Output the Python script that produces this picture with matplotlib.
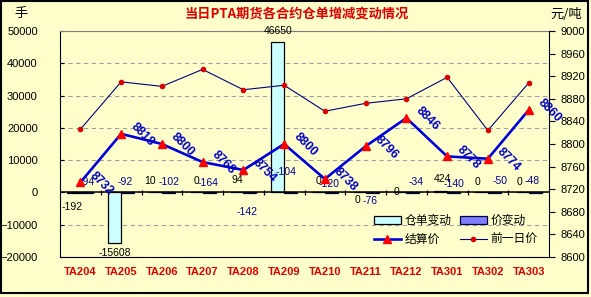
import matplotlib
matplotlib.use("Agg")
import matplotlib.pyplot as plt
import numpy as np
from matplotlib.patches import Patch, Rectangle
from matplotlib.lines import Line2D

plt.rcParams['font.family'] = ['Liberation Sans', 'Noto Sans CJK SC', 'DejaVu Sans']

contracts = ['TA204', 'TA205', 'TA206', 'TA207', 'TA208', 'TA209',
             'TA210', 'TA211', 'TA212', 'TA301', 'TA302', 'TA303']
receipt_chg = [-192, -15608, 10, 0, 94, 46650, 0, 0, 0, 424, 0, 0]
price_chg = [-94, -92, -102, -164, -142, -104, -120, -76, -34, -140, -50, -48]
settle = [8732, 8818, 8800, 8768, 8754, 8800, 8738, 8796, 8846, 8778, 8774, 8860]
prev_price = [8826, 8910, 8902, 8932, 8896, 8904, 8858, 8872, 8880, 8918, 8824, 8908]

# label offsets in pixels (dx, dy), hand placed like the excel original
receipt_off = [(-2, -14), (0, -10), (-5, 11), (0, 11), (0, 12), (1, 11),
               (0, 11), (-2, -8), (-3, 0), (2, 12), (-4, 10), (-3, 10)]
price_off = [(0, 11), (-2, 11), (1, 11), (-1, 10), (-3, -19), (-5, 21),
             (-2, 9), (-2, -8), (3, 11), (0, 9), (6, 12), (-3, 12)]

bg = '#FFFFCC'
cn = ['Noto Sans CJK SC', 'DejaVu Sans']

fig = plt.figure(figsize=(5.91, 2.97), dpi=100, facecolor=bg)
ax = fig.add_axes([60 / 591, 1 - 257 / 297, 489 / 591, 226 / 297])
ax.set_facecolor(bg)
x = np.arange(len(contracts))
w = 0.32

ax.bar(x - w / 2, receipt_chg, w, color='#CCFFFF', edgecolor='black', linewidth=0.9, zorder=2)
ax.bar(x + w / 2, price_chg, w, color='#8080FF', edgecolor='#000040', linewidth=0.9, zorder=2)

ax.set_ylim(-20000, 50000)
ax.set_xlim(-0.5, len(contracts) - 0.5)
ax.set_yticks(np.arange(-20000, 50001, 10000))
ax.yaxis.grid(True, linestyle=(0, (4, 3)), color='#A0A0A0', linewidth=0.8)
ax.set_axisbelow(True)
ax.tick_params(axis='y', direction='in', length=3, labelsize=8, pad=16)
ax.set_xticks(x)
ax.set_xticklabels(contracts, color='#E00000', fontweight='bold', fontsize=8)
ax.tick_params(axis='x', length=0, pad=7)
for s in ['left', 'bottom']:
    ax.spines[s].set_color('black')
ax.spines['top'].set_color('#808080')
ax.spines['right'].set_visible(False)

# zero axis line with category ticks
ax.axhline(0, color='black', linewidth=1.1, zorder=3)
ax.vlines(np.arange(0.5, len(contracts) - 0.5), -900, 900, color='black', linewidth=0.9, zorder=3)

for i, v in enumerate(receipt_chg):
    dx, dy = receipt_off[i]
    ax.annotate(str(v), (x[i] - w / 2, v), xytext=(dx, dy), textcoords='offset pixels',
                ha='center', va='center', fontsize=7.5, color='black', zorder=5)
for i, v in enumerate(price_chg):
    dx, dy = price_off[i]
    ax.annotate(str(v), (x[i] + w / 2, v), xytext=(dx, dy), textcoords='offset pixels',
                ha='center', va='center', fontsize=7.5, color='#000099', zorder=5)

ax2 = ax.twinx()
ax2.set_ylim(8600, 9000)
ax2.set_yticks(np.arange(8600, 9001, 40))
ax2.tick_params(axis='y', direction='out', length=4, labelsize=8, pad=4)
ax2.spines['right'].set_color('black')
ax2.spines['left'].set_visible(False)
ax2.spines['top'].set_visible(False)
ax2.spines['bottom'].set_visible(False)

ax2.plot(x, prev_price, color='#000080', linewidth=0.8, marker='o', markersize=3,
         markerfacecolor='#DD0000', markeredgecolor='#DD0000', zorder=4)
ax2.plot(x, settle, color='#0000DD', linewidth=1.9, marker='^', markersize=6,
         markerfacecolor='#FF0000', markeredgecolor='#FF0000', zorder=4)
for i, v in enumerate(settle):
    ax2.annotate(str(v), (x[i], v), xytext=(21, -1), textcoords='offset pixels',
                 ha='center', va='center', rotation=-45, rotation_mode='anchor',
                 fontsize=9, fontweight='bold', color='#0000CC', zorder=6)

h_receipt = Patch(facecolor='#CCFFFF', edgecolor='black', linewidth=0.9)
h_price = Patch(facecolor='#8080FF', edgecolor='#000040', linewidth=0.9)
h_settle = Line2D([], [], color='#0000DD', linewidth=1.9, marker='^', markersize=6,
                  markerfacecolor='#FF0000', markeredgecolor='#FF0000')
h_prev = Line2D([], [], color='#000080', linewidth=0.8, marker='o', markersize=3,
                markerfacecolor='#DD0000', markeredgecolor='#DD0000')
# legend fills column by column, so order for rows: 仓单变动 价变动 / 结算价 前一日价
ax2.legend([h_receipt, h_settle, h_price, h_prev], ['仓单变动', '结算价', '价变动', '前一日价'],
           ncol=2, loc='center left', bbox_to_anchor=(0.62, 0.12),
           frameon=False, prop={'family': cn, 'size': 8.5}, handlelength=2.3,
           handleheight=0.6, handletextpad=0.3, columnspacing=0.7, labelspacing=0.45)

fig.text(297 / 591, 1 - 14 / 297, '当日PTA期货各合约仓单增减变动情况', ha='center', va='center',
         color='#E00000', fontsize=9.5, fontweight='bold', family=cn)
fig.text(14 / 591, 1 - 14 / 297, '手', ha='left', va='center', fontsize=9.5, family=cn)
fig.text(566 / 591, 1 - 14 / 297, '元/吨', ha='center', va='center', fontsize=9.5, family=cn)

fig.add_artist(Rectangle((0.001, 4 / 297), 587 / 591, 292 / 297, transform=fig.transFigure,
                         fill=False, edgecolor='black', linewidth=1.5))

fig.savefig('out.png', dpi=100, facecolor=bg)
